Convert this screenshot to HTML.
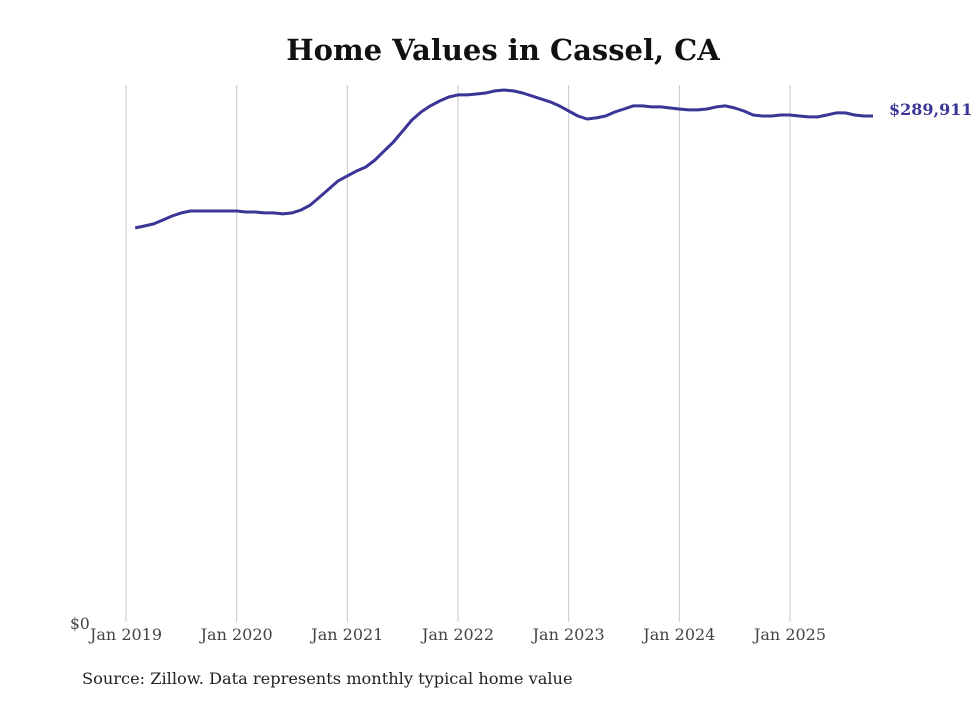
<!DOCTYPE html>
<html><head><meta charset="utf-8"><style>
body{margin:0;background:#fff;width:980px;height:699px;overflow:hidden;font-family:"DejaVu Serif","Liberation Serif",serif}
</style></head><body>
<svg width="980" height="699" id="chart">
<text x="503" y="60" text-anchor="middle" font-size="29" font-weight="bold" fill="#111">Home Values in Cassel, CA</text>
<text x="82" y="684" font-size="16.2" fill="#222">Source: Zillow. Data represents monthly typical home value</text>
<g id="grid"></g><g id="xt"></g><g id="ln"></g>
</svg>
<script>
const yearLabels=["Jan 2019","Jan 2020","Jan 2021","Jan 2022","Jan 2023","Jan 2024","Jan 2025"];
const startMonth=1; // months after Jan 2019 of first value
const values=[225.8,226.9,228.1,230.3,232.6,234.4,235.5,235.5,235.5,235.5,235.5,235.5,234.9,234.9,234.4,234.4,233.8,234.4,236.1,238.9,243.5,248.1,252.7,255.6,258.4,260.7,264.7,269.9,275.0,281.3,287.6,292.2,295.7,298.5,300.8,302.0,302.0,302.5,303.1,304.3,304.8,304.3,303.1,301.4,299.7,298.0,295.7,292.8,289.9,288.2,288.8,289.9,292.2,293.9,295.7,295.7,295.1,295.1,294.5,293.9,293.4,293.4,293.9,295.1,295.7,294.5,292.8,290.5,289.9,289.9,290.5,290.5,289.9,289.4,289.4,290.5,291.7,291.7,290.5,289.9,289.911];
const lastLabel="$289,911";
const NS="http://www.w3.org/2000/svg";
const x=m=>126+m*(664/72);
const y=v=>622-v*(506/289.911);
const svg=document.getElementById('chart');
function mk(t,a,p){const e=document.createElementNS(NS,t);for(const k in a)e.setAttribute(k,a[k]);p.appendChild(e);return e;}
const g=document.getElementById('grid'),xt=document.getElementById('xt'),ln=document.getElementById('ln');
yearLabels.forEach((lab,i)=>{
 const l=mk('line',{x1:x(i*12),x2:x(i*12),y1:85,y2:622,stroke:'#c8c8c8','stroke-width':1},g);
 
 
 const t=mk('text',{x:x(i*12),y:640,'text-anchor':'middle','font-size':16,fill:'#444'},xt);
 t.textContent=lab;
 
 
});
const z=mk('text',{x:70,y:629,'font-size':15.5,fill:'#444'},xt);z.textContent="$0";


const d=values.map((v,i)=>(i?'L':'M')+x(startMonth+i).toFixed(1)+','+y(v).toFixed(1)).join('');
const p=mk('path',{d:d,fill:'none',stroke:'#3a3596','stroke-width':3,'stroke-linejoin':'round'},ln);


const lv=values[values.length-1];
const el=mk('text',{x:889,y:y(lv)-1,'font-size':16,'font-weight':'bold',fill:'#3a3596'},ln);
el.textContent=lastLabel;


</script>
</body></html>
